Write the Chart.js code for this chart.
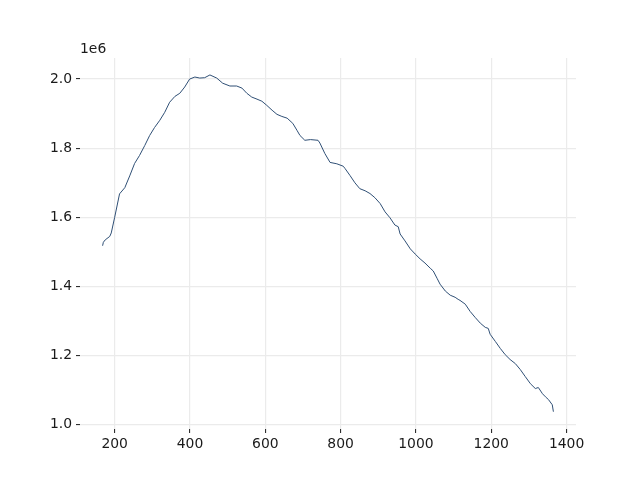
<!DOCTYPE html>
<html>
<head>
<meta charset="utf-8">
<script src="https://cdn.jsdelivr.net/npm/chart.js@4/dist/chart.umd.min.js"></script>
<style>
    html, body { margin: 0; padding: 0; background: #ffffff; }
    #wrap { width: 640px; height: 480px; }
</style>
</head>
<body>
<div id="wrap"><canvas id="lineChart" width="640" height="480"></canvas></div>
<script>
// Data
const xValues = [168, 170, 175, 187, 191, 200, 213, 227, 240, 253, 266, 280, 293, 306, 320, 333, 346, 360, 373, 386,
    399, 413, 426, 439, 453, 471, 487, 506, 524, 538, 551, 564, 578, 591, 604, 618, 631, 644, 658, 673,
    684, 692, 705, 720, 740, 745, 758, 772, 790, 807, 812, 825, 838, 851, 865, 878, 891, 905, 918, 931,
    944, 953, 958, 971, 985, 998, 1011, 1024, 1038, 1046, 1056, 1064, 1078, 1091, 1104, 1112, 1117, 1131, 1144, 1157,
    1171, 1184, 1192, 1197, 1211, 1224, 1237, 1250, 1264, 1277, 1290, 1304, 1317, 1325, 1336, 1344, 1352, 1362, 1365];

const yValues = [1518000, 1528000, 1535000, 1545000, 1555000, 1600000, 1668000, 1686000, 1720000, 1756000,
    1779000, 1808000, 1837000, 1860000, 1881000, 1904000, 1933000, 1950000, 1959000, 1977000,
    2000000, 2006000, 2003000, 2004000, 2012000, 2003000, 1988000, 1980000, 1980000, 1974000,
    1959000, 1948000, 1942000, 1936000, 1924000, 1910000, 1898000, 1892000, 1887000, 1872000,
    1852000, 1837000, 1823000, 1825000, 1823000, 1815000, 1785000, 1759000, 1755000, 1748000,
    1741000, 1721000, 1700000, 1683000, 1677000, 1669000, 1657000, 1640000, 1616000, 1599000,
    1578000, 1573000, 1552000, 1532000, 1509000, 1494000, 1480000, 1468000, 1453000, 1445000,
    1424000, 1407000, 1387000, 1375000, 1369000, 1363000, 1360000, 1349000, 1328000, 1311000,
    1294000, 1282000, 1279000, 1262000, 1241000, 1221000, 1203000, 1189000, 1177000, 1160000,
    1140000, 1119000, 1105000, 1108000, 1090000, 1081000, 1073000, 1058000, 1038000];

const xTicks = [200, 400, 600, 800, 1000, 1200, 1400];
const yTicks = [1000000, 1200000, 1400000, 1600000, 1800000, 2000000];
const offsetLabel = '1e6';

// Styling
const lineColor = '#2f4f75';
const gridColor = '#ebebeb';
const textColor = '#1a1a1a';
const tickFont = { family: 'DejaVu Sans', size: 13.9 };

// Draw the "1e6" offset text above the y axis
const offsetTextPlugin = {
    id: 'offsetText',
    afterDraw(chart) {
        const ctx = chart.ctx;
        const area = chart.chartArea;
        ctx.save();
        ctx.font = '13.9px "DejaVu Sans"';
        ctx.fillStyle = textColor;
        ctx.textAlign = 'left';
        ctx.textBaseline = 'bottom';
        ctx.fillText(offsetLabel, area.left, area.top - 2);
        ctx.restore();
    }
};

// Render the chart
function renderLineChart() {
    const ctx = document.getElementById('lineChart');
    const points = xValues.map((x, i) => ({ x: x, y: yValues[i] }));

    new Chart(ctx, {
        type: 'line',
        data: {
            datasets: [{
                data: points,
                borderColor: lineColor,
                borderWidth: 1,
                pointRadius: 0,
                tension: 0,
                fill: false
            }]
        },
        options: {
            responsive: false,
            animation: false,
            layout: {
                padding: { top: 58, right: 64, left: 0, bottom: 0 }
            },
            plugins: {
                legend: { display: false },
                tooltip: { enabled: false }
            },
            scales: {
                x: {
                    type: 'linear',
                    min: 108,
                    max: 1425,
                    border: { display: false },
                    afterBuildTicks: scale => { scale.ticks = xTicks.map(v => ({ value: v })); },
                    afterFit: scale => { scale.height = 51; },
                    grid: {
                        color: gridColor,
                        lineWidth: 1.2,
                        drawTicks: true,
                        tickLength: 4,
                        tickColor: textColor,
                        tickWidth: 1
                    },
                    ticks: {
                        color: textColor,
                        font: tickFont,
                        padding: 3,
                        maxRotation: 0,
                        callback: value => String(value)
                    }
                },
                y: {
                    type: 'linear',
                    min: 988000,
                    max: 2061000,
                    border: { display: false },
                    afterBuildTicks: scale => { scale.ticks = yTicks.map(v => ({ value: v })); },
                    afterFit: scale => { scale.width = 80; },
                    grid: {
                        color: gridColor,
                        lineWidth: 1.2,
                        drawTicks: true,
                        tickLength: 4,
                        tickColor: textColor,
                        tickWidth: 1
                    },
                    ticks: {
                        color: textColor,
                        font: tickFont,
                        padding: 4,
                        callback: value => (value / 1e6).toFixed(1)
                    }
                }
            }
        },
        plugins: [offsetTextPlugin]
    });
}

renderLineChart();
</script>
</body>
</html>
